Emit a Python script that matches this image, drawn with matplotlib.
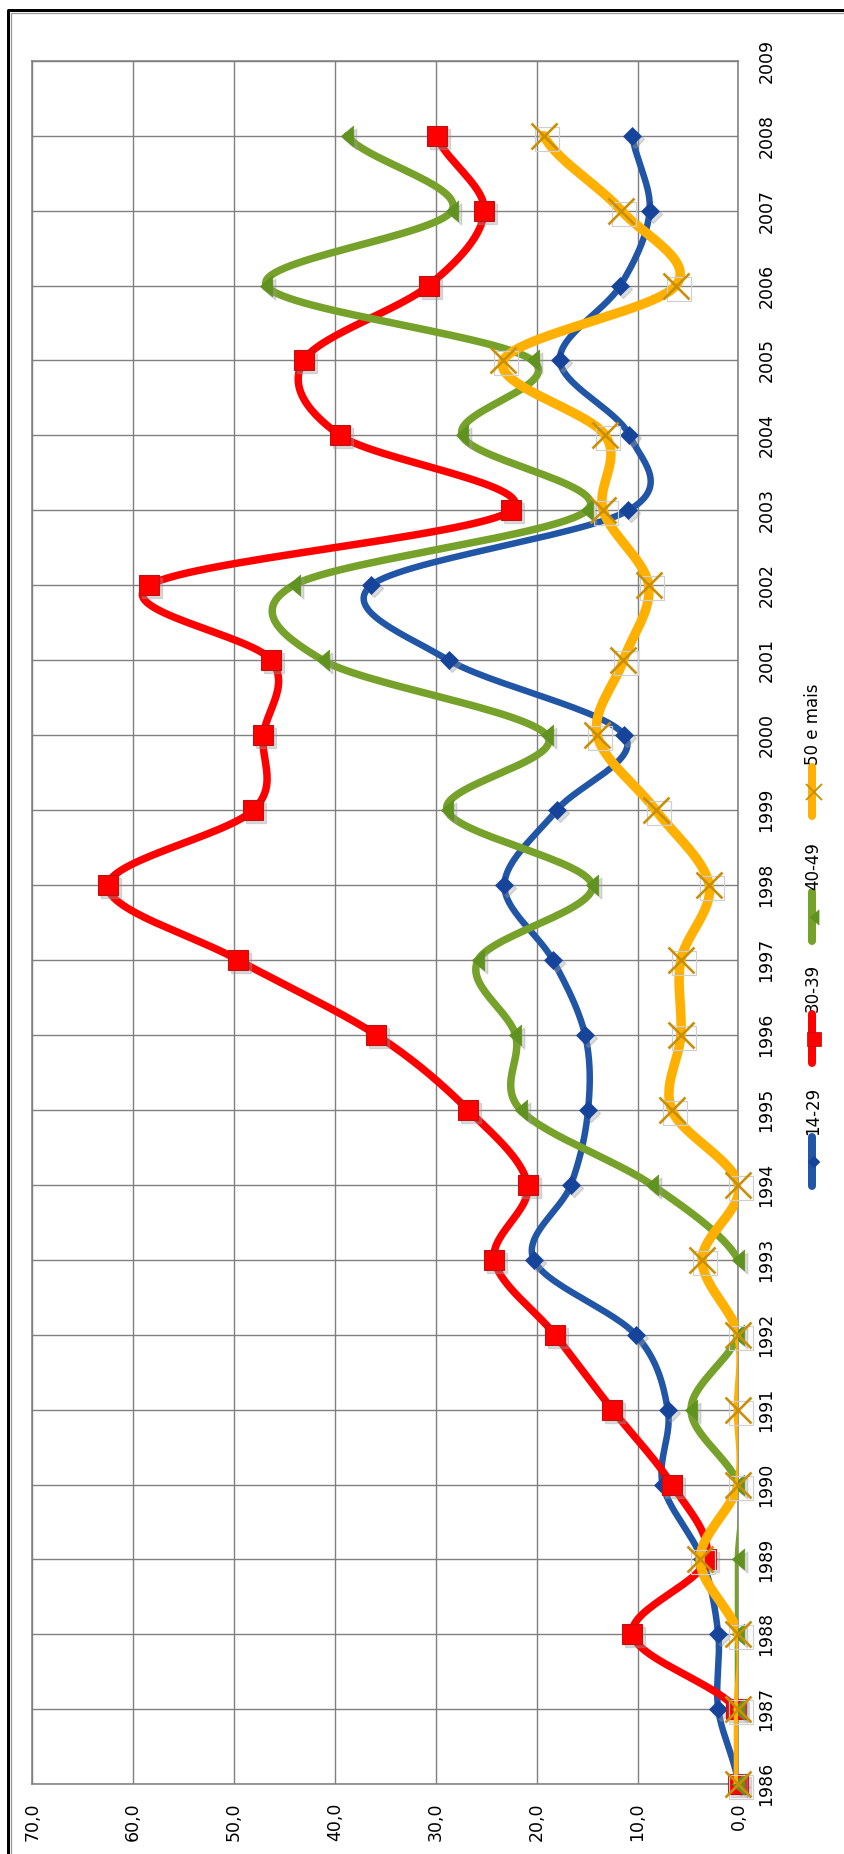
import numpy as np
import matplotlib
matplotlib.use("Agg")
import matplotlib.pyplot as plt
from matplotlib.lines import Line2D
from matplotlib.path import Path
import matplotlib.transforms as mtransforms

# dados
anos = list(range(1986, 2009))
s_14_29 = [0.0, 2.0, 2.0, 3.6, 7.5, 7.0, 10.2, 20.3, 16.6, 14.9, 15.2, 18.4,
           23.2, 18.0, 11.3, 28.7, 36.4, 10.9, 10.8, 17.7, 11.7, 8.8, 10.5]
s_30_39 = [0.0, 0.2, 10.5, 3.2, 6.6, 12.5, 18.2, 24.2, 20.9, 26.8, 35.9, 49.6,
           62.5, 48.1, 47.1, 46.3, 58.4, 22.5, 39.5, 43.1, 30.7, 25.2, 29.9]
s_40_49 = [0.0, 0.0, 0.0, 0.0, 0.0, 4.7, 0.0, 0.0, 8.6, 21.6, 22.1, 25.8,
           14.5, 28.9, 19.0, 41.2, 44.1, 15.0, 27.4, 20.4, 46.8, 28.4, 38.8]
s_50_mais = [0.0, 0.0, 0.0, 3.8, 0.0, 0.0, 0.0, 3.6, 0.0, 6.6, 5.7, 5.7,
             2.9, 8.2, 14.0, 11.4, 8.9, 13.4, 13.2, 23.3, 6.2, 11.6, 19.3]
nomes = ["14-29", "30-39", "40-49", "50 e mais"]
valores_ticks = [0, 10, 20, 30, 40, 50, 60, 70]
valores_labels = ["0,0", "10,0", "20,0", "30,0", "40,0", "50,0", "60,0", "70,0"]
anos_ticks = list(range(1986, 2010))

W, H, DPI = 844, 1854, 100


def pt(p):
    # pixels -> pontos
    return p * 72.0 / DPI


def fx(x):
    return x / W


def fy(y):
    return 1 - y / H


def suaviza(vals, n=30):
    # curva tipo Catmull-Rom entre os pontos
    v = np.asarray(vals, float)
    m = np.empty_like(v)
    m[1:-1] = (v[2:] - v[:-2]) / 2
    m[0] = (v[1] - v[0]) / 2
    m[-1] = (v[-1] - v[-2]) / 2
    t = np.linspace(0, 1, n, endpoint=False)
    h00 = 2 * t**3 - 3 * t**2 + 1
    h10 = t**3 - 2 * t**2 + t
    h01 = -2 * t**3 + 3 * t**2
    h11 = t**3 - t**2
    xs, ys = [], []
    for i in range(len(v) - 1):
        xs.append(i + t)
        ys.append(h00 * v[i] + h10 * m[i] + h01 * v[i + 1] + h11 * m[i + 1])
    xs.append([len(v) - 1])
    ys.append([v[-1]])
    return np.concatenate(xs), np.concatenate(ys)


tri = Path([(-0.6, 0), (0.6, 1), (0.6, -1), (-0.6, 0)],
           [Path.MOVETO, Path.LINETO, Path.LINETO, Path.CLOSEPOLY])

estilos = [
    dict(cor="#2155a5", lw=6.5, marker="D", ms=8.7, mfc="#17449b", mec="#17449b", mew=0.5,
         lms=6.5),
    dict(cor="#ff0000", lw=7.5, marker="s", ms=14.4, mfc="#ff0000", mec="#b81414", mew=0.8,
         lms=10.5),
    dict(cor="#76a12b", lw=7.5, marker=tri, ms=15.0, mfc="#5f921e", mec="#5f921e", mew=0.5,
         lms=11),
    dict(cor="#ffb000", lw=9.5, marker="x", ms=19.4, mfc="#c8900a", mec="#c8900a", mew=1.9,
         lms=12),
]
series = [s_14_29, s_30_39, s_40_49, s_50_mais]

fig = plt.figure(figsize=(W / DPI, H / DPI), dpi=DPI)
fig.patch.set_facecolor("white")

ax = fig.add_axes([fx(32.3), fy(1784.3), fx(738.4) - fx(32.3), fy(60.7) - fy(1784.3)])
ax.set_xlim(70, 0)
ax.set_ylim(1986, 2009)

sombra = ax.transData + mtransforms.ScaledTranslation(3 / DPI, -3 / DPI, fig.dpi_scale_trans)

for i, (vals, st) in enumerate(zip(series, estilos)):
    z = 3 + i
    xs, ys = suaviza(vals)
    ax.plot(ys, np.array(xs) + anos[0], color=st["cor"], lw=pt(st["lw"]),
            solid_capstyle="round", solid_joinstyle="round", zorder=z)
    if st["marker"] == "x":
        ax.plot(vals, anos, ls="none", marker="s", ms=pt(24), mfc="none", mec="#cfcfcf",
                mew=pt(1.2), transform=sombra, clip_on=False, zorder=z + 0.1)
    else:
        ax.plot(vals, anos, ls="none", marker=st["marker"], ms=st["ms"], mfc="#9a9a9a",
                mec="#9a9a9a", alpha=0.35, transform=sombra, clip_on=False, zorder=z + 0.1)
    ax.plot(vals, anos, ls="none", marker=st["marker"], ms=st["ms"], mfc=st["mfc"],
            mec=st["mec"], mew=st["mew"], clip_on=False, zorder=z + 0.2)

ax.set_xticks(valores_ticks)
ax.set_xticklabels(valores_labels, rotation=90, fontsize=12.5)
ax.set_yticks(anos_ticks)
ax.set_yticklabels([str(a) for a in anos_ticks], rotation=90, va="center", fontsize=12.5)
ax.yaxis.tick_right()
ax.tick_params(axis="x", length=0, pad=pt(18))
ax.tick_params(axis="y", length=0, pad=pt(19))
ax.grid(True, color="#808080", lw=pt(1.4))
ax.set_axisbelow(True)
for sp in ax.spines.values():
    sp.set_color("#808080")
    sp.set_linewidth(pt(1.6))

# legenda (desenhada à mão, na vertical)
leg_x = 812
leg_base = [1186, 1063, 941, 816]
for nome, st, yb in zip(nomes, estilos, leg_base):
    fig.add_artist(Line2D([fx(leg_x), fx(leg_x)], [fy(yb), fy(yb - 49)], color=st["cor"],
                          lw=pt(8), solid_capstyle="round", transform=fig.transFigure))
    fig.add_artist(Line2D([fx(leg_x + 2)], [fy(yb - 24.5)], ls="none", marker=st["marker"],
                          ms=st["lms"], mfc=st["mfc"], mec=st["mec"],
                          mew=st["mew"] * 0.7, transform=fig.transFigure))
    fig.text(fx(leg_x + 1), fy(yb - 51), nome, rotation=90, ha="center", va="bottom",
             fontsize=12)

# moldura externa
fig.add_artist(Line2D([fx(7.5), fx(7.5), 1], [0, fy(9.5), fy(9.5)], color="black",
                      lw=pt(3), transform=fig.transFigure))
fig.add_artist(Line2D([fx(10.5), fx(10.5), 1], [0, fy(12.5), fy(12.5)], color="#9a9a9a",
                      lw=pt(1.3), transform=fig.transFigure))

fig.savefig("out.png", dpi=DPI)
